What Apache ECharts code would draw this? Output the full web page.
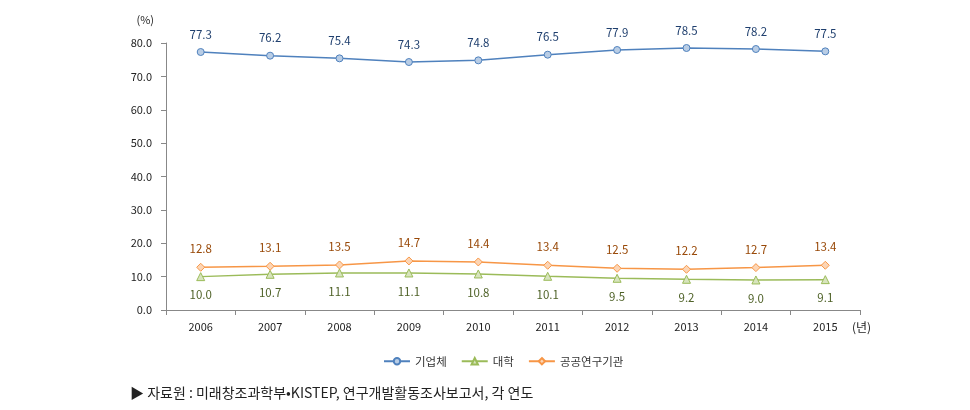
<!DOCTYPE html>
<html><head><meta charset="utf-8">
<script src="https://cdn.jsdelivr.net/npm/echarts@6/dist/echarts.min.js"></script>
<style>html,body{margin:0;padding:0;background:#fff}#c{width:970px;height:410px}</style>
</head><body><div id="c"></div>
<script>
const years = ['2006','2007','2008','2009','2010','2011','2012','2013','2014','2015'];
const business = [77.3,76.2,75.4,74.3,74.8,76.5,77.9,78.5,78.2,77.5];
const university = [10.0,10.7,11.1,11.1,10.8,10.1,9.5,9.2,9.0,9.1];
const publicInst = [12.8,13.1,13.5,14.7,14.4,13.4,12.5,12.2,12.7,13.4];
const names = ['기업체','대학','공공연구기관'];
const font = "'Noto Sans CJK KR', sans-serif";
const chart = echarts.init(document.getElementById('c'));
function mk(name, data, color, fill, labColor, pos, symbol, size){
  return {name, type:'line', data, symbol, symbolSize:size, showSymbol:true,
    lineStyle:{color, width:1.5}, itemStyle:{color:fill, borderColor:color, borderWidth:1},
    label:{show:true, position:pos, distance:8, color:labColor, fontSize:11.5, fontFamily:font,
      formatter:p=>p.value.toFixed(1)}};
}
chart.setOption({
  animation:false,
  textStyle:{fontFamily:font},
  grid:{left:166,right:110,top:43,bottom:100},
  legend:{bottom:38,left:378,itemWidth:26,itemHeight:8,itemGap:14,
    textStyle:{fontSize:11.5,color:'#333',fontFamily:font},
    data:names.map(n=>({name:n}))},
  xAxis:{type:'category',data:years,boundaryGap:true,
    axisLine:{lineStyle:{color:'#888'}},axisTick:{show:true,lineStyle:{color:'#888'}},
    axisLabel:{color:'#222',fontSize:11,margin:11,fontFamily:font},
    name:'(년)',nameLocation:'end',nameGap:-8,nameTextStyle:{color:'#222',fontSize:12,align:'left',verticalAlign:'top',padding:[11,0,0,0]}},
  yAxis:{type:'value',min:0,max:80,interval:10,
    axisLine:{show:true,lineStyle:{color:'#888'}},axisTick:{show:true,lineStyle:{color:'#888'}},
    splitLine:{show:false},
    axisLabel:{color:'#222',fontSize:11,margin:14,formatter:v=>v.toFixed(1),fontFamily:font},
    name:'(%)',nameLocation:'end',nameGap:18,nameTextStyle:{color:'#222',fontSize:11,align:'right',padding:[0,12,0,0]}},
  series:[
    mk(names[0],business,'#4f81bd','#b9cde5','#1f3f6e','top','circle',7),
    mk(names[1],university,'#9bbb59','#d7e4bd','#4f6228','bottom','triangle',8),
    mk(names[2],publicInst,'#f79646','#fcd5b5','#984807','top','diamond',8)
  ],
  graphic:[{type:'text',left:130,top:386,style:{text:'▶ 자료원 : 미래창조과학부•KISTEP, 연구개발활동조사보고서, 각 연도',fontSize:14,fill:'#222',fontFamily:font}}]
});
</script></body></html>
